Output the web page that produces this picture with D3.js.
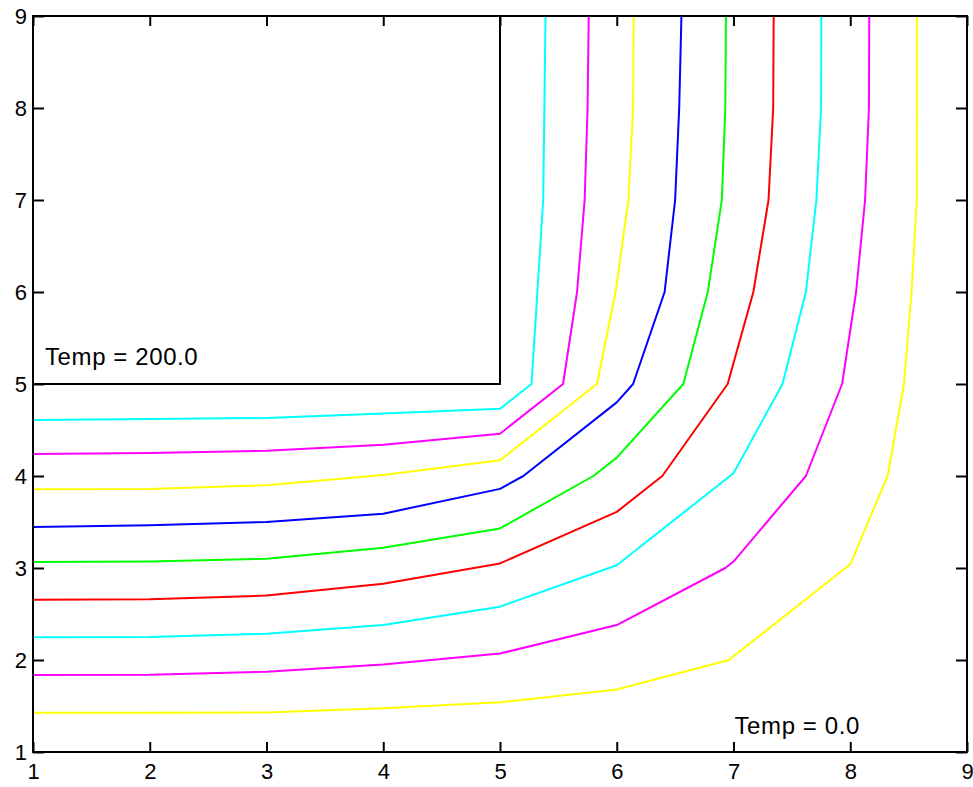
<!DOCTYPE html>
<html>
<head>
<meta charset="utf-8">
<script src="https://cdn.jsdelivr.net/npm/d3@7"></script>
<style>
  html, body { margin: 0; padding: 0; background: #fff; }
  svg { display: block; }
  text { font-family: "Liberation Sans", Arial, Helvetica, sans-serif; fill: #000; }
</style>
</head>
<body>
<svg id="chart" width="973" height="787"></svg>
<script>
// Axis ranges and tick labels
const xTicks = [1, 2, 3, 4, 5, 6, 7, 8, 9];
const yTicks = [1, 2, 3, 4, 5, 6, 7, 8, 9];

// Boundary of the hot block (Temp = 200.0)
const hotEdgeX = [1, 5, 5];
const hotEdgeY = [5, 5, 9];

// Isotherm vertices, from the hot corner outward
const iso180x = [1, 2, 3, 4, 5, 5.27, 5.32, 5.37, 5.38, 5.39];
const iso180y = [4.61, 4.62, 4.63, 4.68, 4.73, 5, 6, 7, 8, 9];

const iso160x = [1, 2, 3, 4, 5, 5.54, 5.66, 5.725, 5.75, 5.76];
const iso160y = [4.24, 4.25, 4.275, 4.34, 4.46, 5, 6, 7, 8, 9];

const iso140x = [1, 2, 3, 4, 5, 5.83, 5.99, 6.10, 6.14, 6.145];
const iso140y = [3.855, 3.86, 3.90, 4.01, 4.17, 5, 6, 7, 8, 9];

const iso120x = [1, 2, 3, 4, 5, 5.2, 6, 6.14, 6.41, 6.50, 6.535, 6.554];
const iso120y = [3.446, 3.465, 3.50, 3.59, 3.86, 4, 4.8, 5, 6, 7, 8, 9];

const iso100x = [1, 2, 3, 4, 5, 5.8, 6, 6.57, 6.78, 6.90, 6.93, 6.935];
const iso100y = [3.065, 3.07, 3.10, 3.22, 3.43, 4, 4.2, 5, 6, 7, 8, 9];

const iso80x = [1, 2, 3, 4, 5, 6, 6.39, 6.95, 7.17, 7.30, 7.34, 7.344];
const iso80y = [2.656, 2.66, 2.70, 2.83, 3.05, 3.61, 4, 5, 6, 7, 8, 9];

const iso60x = [1, 2, 3, 4, 5, 6, 6.97, 7, 7.42, 7.62, 7.71, 7.75, 7.753];
const iso60y = [2.247, 2.25, 2.286, 2.38, 2.58, 3.03, 4, 4.03, 5, 6, 7, 8, 9];

const iso40x = [1, 2, 3, 4, 5, 6, 6.93, 7, 7.62, 7.93, 8.05, 8.127, 8.16, 8.163];
const iso40y = [1.837, 1.84, 1.873, 1.95, 2.07, 2.38, 3, 3.07, 4, 5, 6, 7, 8, 9];

const iso20x = [1, 2, 3, 4, 5, 6, 6.96, 7, 7.96, 8, 8.32, 8.46, 8.525, 8.57, 8.573, 8.573];
const iso20y = [1.427, 1.427, 1.43, 1.475, 1.54, 1.68, 2, 2.04, 3, 3.04, 4, 5, 6, 7, 8, 9];

// Labels placed in the plot
const hotLabel = "Temp = 200.0";
const coldLabel = "Temp = 0.0";

// Line colours, matching the isotherm order above
const isoColors = ["#00ffff", "#ff00ff", "#ffff00", "#0000ff", "#00ff00",
                   "#ff0000", "#00ffff", "#ff00ff", "#ffff00"];

const isotherms = [
  [iso180x, iso180y], [iso160x, iso160y], [iso140x, iso140y],
  [iso120x, iso120y], [iso100x, iso100y], [iso80x, iso80y],
  [iso60x, iso60y], [iso40x, iso40y], [iso20x, iso20y]
];

const plotLeft = 33, plotRight = 967, plotTop = 16, plotBottom = 752;

const svg = d3.select("#chart");

const x = d3.scaleLinear().domain([1, 9]).range([plotLeft, plotRight]);
const y = d3.scaleLinear().domain([1, 9]).range([plotBottom, plotTop]);

const line = d3.line().x(d => x(d[0])).y(d => y(d[1]));
const zip = (xs, ys) => xs.map((v, i) => [v, ys[i]]);

// Isotherm lines
svg.append("g")
  .selectAll("path")
  .data(isotherms)
  .join("path")
  .attr("d", d => line(zip(d[0], d[1])))
  .attr("fill", "none")
  .attr("stroke", (d, i) => isoColors[i])
  .attr("stroke-width", 2)
  .attr("stroke-linejoin", "round");

// Edge of the hot block
svg.append("path")
  .attr("d", line(zip(hotEdgeX, hotEdgeY)))
  .attr("fill", "none")
  .attr("stroke", "#000")
  .attr("stroke-width", 2);

// Axes: ticks point inward on all four sides
const styleAxis = g => {
  g.select(".domain").remove();
  g.selectAll(".tick line").attr("stroke", "#000").attr("stroke-width", 2);
  g.selectAll(".tick text")
    .style("font-family", "'Liberation Sans', Arial, Helvetica, sans-serif")
    .style("font-size", "22px")
    .attr("fill", "#000");
};

svg.append("g")
  .attr("transform", `translate(0,${plotBottom})`)
  .call(d3.axisBottom(x).tickValues(xTicks).tickFormat(d3.format("d"))
        .tickSizeInner(-10).tickSizeOuter(0).tickPadding(12))
  .call(styleAxis)
  .call(g => g.selectAll(".tick text").attr("y", 27).attr("dy", "0"));

svg.append("g")
  .attr("transform", `translate(${plotLeft},0)`)
  .call(d3.axisLeft(y).tickValues(yTicks).tickFormat(d3.format("d"))
        .tickSizeInner(-11).tickSizeOuter(0).tickPadding(7))
  .call(styleAxis)
  .call(g => g.selectAll(".tick text").attr("x", -6).attr("dy", "0.36em"));

svg.append("g")
  .attr("transform", `translate(0,${plotTop})`)
  .call(d3.axisTop(x).tickValues(xTicks).tickFormat("")
        .tickSizeInner(-10).tickSizeOuter(0))
  .call(styleAxis);

svg.append("g")
  .attr("transform", `translate(${plotRight},0)`)
  .call(d3.axisRight(y).tickValues(yTicks).tickFormat("")
        .tickSizeInner(-11).tickSizeOuter(0))
  .call(styleAxis);

// Plot frame
svg.append("rect")
  .attr("x", plotLeft).attr("y", plotTop)
  .attr("width", plotRight - plotLeft).attr("height", plotBottom - plotTop)
  .attr("fill", "none")
  .attr("stroke", "#000")
  .attr("stroke-width", 2);

// In-plot labels
svg.append("text")
  .attr("x", x(1) + 12).attr("y", y(5) - 19)
  .style("font-size", "24px")
  .style("letter-spacing", "0.6px")
  .text(hotLabel);

svg.append("text")
  .attr("x", x(7) + 1).attr("y", y(1) - 18)
  .style("font-size", "24px")
  .style("letter-spacing", "0.6px")
  .text(coldLabel);
</script>
</body>
</html>
